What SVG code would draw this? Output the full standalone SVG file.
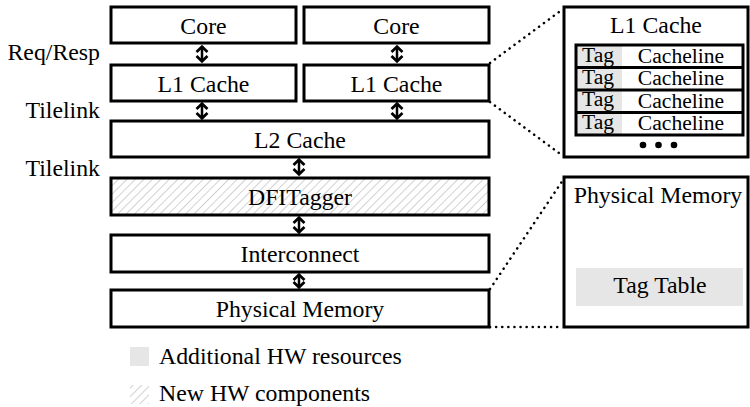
<svg xmlns="http://www.w3.org/2000/svg" width="750" height="407" viewBox="0 0 750 407">
<style>
.box{fill:#fff;stroke:#000;stroke-width:3}
.t{font-family:"Liberation Serif","Times New Roman",serif;font-size:23.8px;fill:#000}
.s{font-family:"Liberation Serif","Times New Roman",serif;font-size:21.6px;fill:#000}
.c{text-anchor:middle}
.arr{stroke:#000;stroke-width:2.5;fill:none;marker-start:url(#ch);marker-end:url(#ch)}
.dot{stroke:#000;stroke-width:2.5;stroke-dasharray:0.1 6;stroke-linecap:round;fill:none}
.gray{fill:#e6e6e6}
</style>
<defs>
<marker id="ch" viewBox="0 0 10 12" refX="8" refY="6" markerWidth="10" markerHeight="12" markerUnits="userSpaceOnUse" orient="auto-start-reverse" overflow="visible">
<path d="M3,0.5 L8.3,6 L3,11.5" fill="none" stroke="#000" stroke-width="2.7"/>
</marker>
<pattern id="hatch" patternUnits="userSpaceOnUse" width="6" height="6" patternTransform="rotate(45)">
<rect width="6" height="6" fill="#fff"/>
<line x1="0" y1="0" x2="0" y2="6" stroke="#b3b3b3" stroke-width="1.2"/>
</pattern>
</defs>

<g id="labels">
<text class="t" x="100" y="60" text-anchor="end">Req/Resp</text>
<text class="t" x="100" y="118" text-anchor="end">Tilelink</text>
<text class="t" x="100" y="176" text-anchor="end">Tilelink</text>
</g>

<g id="core-left"><rect class="box" x="111" y="7" width="185" height="36"/><text class="t c" x="203.5" y="34">Core</text></g>
<g id="core-right"><rect class="box" x="304" y="7" width="185" height="36"/><text class="t c" x="396.5" y="34">Core</text></g>
<g id="l1-left"><rect class="box" x="111" y="65" width="185" height="36"/><text class="t c" x="203.5" y="92">L1 Cache</text></g>
<g id="l1-right"><rect class="box" x="304" y="65" width="185" height="36"/><text class="t c" x="396.5" y="92">L1 Cache</text></g>
<g id="l2"><rect class="box" x="111" y="121" width="378" height="36"/><text class="t c" x="300" y="148">L2 Cache</text></g>
<g id="dfitagger"><rect class="box" x="111" y="178" width="378" height="37" style="fill:url(#hatch)"/><text class="t c" x="300" y="205">DFITagger</text></g>
<g id="interconnect"><rect class="box" x="111" y="235" width="378" height="37"/><text class="t c" x="300" y="262">Interconnect</text></g>
<g id="physmem"><rect class="box" x="111" y="290" width="378" height="37"/><text class="t c" x="300" y="317">Physical Memory</text></g>

<g id="l1-detail">
<rect class="box" x="564" y="7" width="184" height="150"/>
<text class="t c" x="656" y="33">L1 Cache</text>
<rect class="gray" x="576" y="45" width="46" height="90"/>
<rect x="576" y="45" width="167" height="90" fill="none" stroke="#000" stroke-width="3"/>
<line x1="576" y1="67.5" x2="743" y2="67.5" stroke="#000" stroke-width="3"/>
<line x1="576" y1="90" x2="743" y2="90" stroke="#000" stroke-width="3"/>
<line x1="576" y1="112.5" x2="743" y2="112.5" stroke="#000" stroke-width="3"/>
<text class="s c" x="598" y="62">Tag</text><text class="s c" x="681" y="63">Cacheline</text>
<text class="s c" x="598" y="84">Tag</text><text class="s c" x="681" y="85">Cacheline</text>
<text class="s c" x="598" y="106">Tag</text><text class="s c" x="681" y="108">Cacheline</text>
<text class="s c" x="598" y="129">Tag</text><text class="s c" x="681" y="130">Cacheline</text>
<circle cx="643" cy="145" r="3.3"/><circle cx="658.5" cy="145" r="3.3"/><circle cx="674" cy="145" r="3.3"/>
</g>

<g id="pm-detail">
<rect class="box" x="564" y="177" width="184" height="150"/>
<text class="t c" x="658" y="203">Physical Memory</text>
<rect class="gray" x="576" y="268" width="167" height="38"/>
<text class="t c" x="660" y="293">Tag Table</text>
</g>

<g id="connectors">
<line class="arr" x1="202" y1="47" x2="202" y2="61"/>
<line class="arr" x1="397" y1="47" x2="397" y2="61"/>
<line class="arr" x1="202" y1="104" x2="202" y2="118"/>
<line class="arr" x1="397" y1="104" x2="397" y2="118"/>
<line class="arr" x1="299" y1="160" x2="299" y2="174"/>
<line class="arr" x1="299" y1="218" x2="299" y2="232"/>
<line class="arr" x1="299" y1="275" x2="299" y2="287"/>
<path class="dot" d="M490,63 L563,9"/>
<path class="dot" d="M490,102 L563,156"/>
<path class="dot" d="M490,289 L563,180"/>
<path class="dot" d="M490,327 L563,327"/>
</g>

<g id="legend">
<rect class="gray" x="130" y="347" width="19" height="19"/>
<text class="t" x="159" y="364">Additional HW resources</text>
<rect x="130" y="385" width="19" height="19" fill="url(#hatch)"/>
<text class="t" x="159" y="401">New HW components</text>
</g>
</svg>
